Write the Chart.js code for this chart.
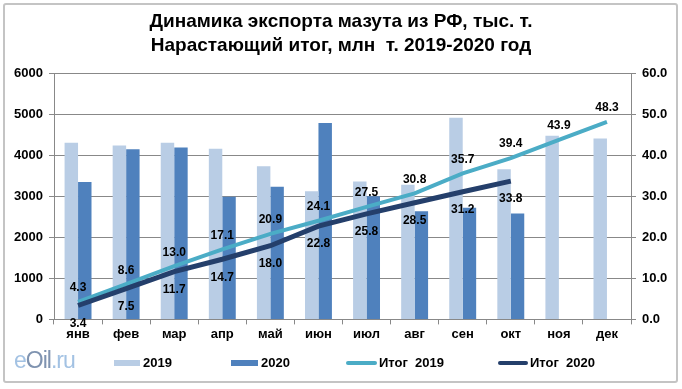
<!DOCTYPE html>
<html>
<head>
<meta charset="utf-8">
<script src="https://cdn.jsdelivr.net/npm/chart.js@4/dist/chart.umd.min.js"></script>
<style>
  body { margin: 0; background: #fff; }
  #wrap { position: relative; width: 682px; height: 389px; }
  #frame { position: absolute; left: 3px; top: 3px; width: 671px; height: 376px; border: 2px solid #c4c4c4; border-radius: 3px; pointer-events: none; }
  #logo { position: absolute; left: 14px; top: 347px; font: 23px "Liberation Sans", Arial, sans-serif; letter-spacing: -1px; }
  #logo .a { color: #a3c2e3; }
  #logo .b { color: #7f93b0; }
  .lg { position: absolute; top: 355px; font: bold 13px "Liberation Sans", Arial, sans-serif; color: #000; white-space: pre; }
  .sw { position: absolute; }
</style>
</head>
<body>
<div id="wrap">
  <canvas id="chart" width="682" height="389"></canvas>
  <div id="frame"></div>
  <div id="logo"><span class="a">e</span><span class="b">Oil</span><span class="a">.ru</span></div>
  <div id="legend"></div>
</div>
<script>
const months = ['янв', 'фев', 'мар', 'апр', 'май', 'июн', 'июл', 'авг', 'сен', 'окт', 'ноя', 'дек'];
const export2019 = [4320, 4250, 4320, 4170, 3740, 3130, 3370, 3290, 4930, 3670, 4490, 4420];
const export2020 = [3360, 4160, 4200, 3000, 3240, 4800, 3010, 2640, 2730, 2590];
const total2019 = [4.3, 8.6, 13.0, 17.1, 20.9, 24.1, 27.5, 30.8, 35.7, 39.4, 43.9, 48.3];
const total2020 = [3.4, 7.5, 11.7, 14.7, 18.0, 22.8, 25.8, 28.5, 31.2, 33.8];
const titleLines = ['Динамика экспорта мазута из РФ, тыс. т.', 'Нарастающий итог, млн  т. 2019-2020 год'];

const font = 'Liberation Sans';

// value labels over the cumulative lines
const lineLabels = {
  id: 'lineLabels',
  afterDatasetsDraw(chart) {
    const ctx = chart.ctx;
    ctx.save();
    ctx.font = 'bold 12px "' + font + '"';
    ctx.fillStyle = '#000';
    ctx.textAlign = 'center';
    ctx.textBaseline = 'middle';
    chart.data.datasets.forEach((ds, i) => {
      if (ds.type !== 'line') return;
      const meta = chart.getDatasetMeta(i);
      meta.data.forEach((pt, j) => {
        const v = ds.data[j];
        if (v == null) return;
        const dy = ds.labelPos === 'above' ? -14 : 18;
        ctx.fillText(v.toFixed(1), pt.x, pt.y + dy);
      });
    });
    ctx.restore();
  }
};

const chart = new Chart(document.getElementById('chart').getContext('2d'), {
  data: {
    labels: months,
    datasets: [
      { type: 'bar', label: '2019', data: export2019, backgroundColor: '#b9cde5', yAxisID: 'y', order: 3 },
      { type: 'bar', label: '2020', data: export2020, backgroundColor: '#4f81bd', yAxisID: 'y', order: 4 },
      { type: 'line', label: 'Итог  2019', data: total2019, borderColor: '#4bacc6', backgroundColor: '#4bacc6',
        borderWidth: 4, pointRadius: 0, yAxisID: 'y2', labelPos: 'above', order: 2 },
      { type: 'line', label: 'Итог  2020', data: total2020, borderColor: '#243f6b', backgroundColor: '#243f6b',
        borderWidth: 5, pointRadius: 0, yAxisID: 'y2', labelPos: 'below', order: 1 }
    ]
  },
  options: {
    responsive: false,
    animation: false,
    layout: { padding: { top: 4, bottom: 45, left: 0, right: 0 } },
    datasets: { bar: { categoryPercentage: 0.56, barPercentage: 1.0 } },
    plugins: {
      tooltip: { enabled: false },
      legend: { display: false },
      title: {
        display: true,
        text: titleLines,
        color: '#000',
        font: { family: font, size: 19, weight: 'bold', lineHeight: 1.26 },
        padding: { top: 6, bottom: 16 }
      }
    },
    scales: {
      x: {
        grid: { offset: true, drawOnChartArea: false, drawTicks: true, tickLength: 5, color: '#888' },
        border: { color: '#888' },
        ticks: { color: '#000', font: { family: font, size: 13, weight: 'bold' }, padding: 2 }
      },
      y: {
        position: 'left',
        min: 0, max: 6000,
        ticks: { stepSize: 1000, color: '#000', font: { family: font, size: 13, weight: 'bold' }, padding: 6,
          callback: v => String(v) },
        grid: { color: '#888', tickLength: 5 },
        border: { color: '#888' },
        afterFit(scale) { scale.width = 54; }
      },
      y2: {
        position: 'right',
        min: 0, max: 60,
        ticks: { stepSize: 10, color: '#000', font: { family: font, size: 13, weight: 'bold' }, padding: 6,
          callback: v => v.toFixed(1) },
        grid: { drawOnChartArea: false, color: '#888', tickLength: 5 },
        border: { color: '#888' },
        afterFit(scale) { scale.width = 51; }
      }
    }
  },
  plugins: [lineLabels]
});

// html legend, laid out like the original
const legendSlots = [
  { x: 114, w: 26, h: 6, text: 143 },
  { x: 231, w: 27, h: 6, text: 261 },
  { x: 346, w: 31, h: 4, text: 379 },
  { x: 498, w: 30, h: 4, text: 530 }
];
const legend = document.getElementById('legend');
chart.data.datasets.forEach((ds, i) => {
  const s = legendSlots[i];
  const sw = document.createElement('div');
  sw.className = 'sw';
  sw.style.left = s.x + 'px';
  sw.style.top = (363 - s.h / 2) + 'px';
  sw.style.width = s.w + 'px';
  sw.style.height = s.h + 'px';
  sw.style.background = ds.type === 'line' ? ds.borderColor : ds.backgroundColor;
  if (ds.type === 'line') sw.style.borderRadius = '2px';
  legend.appendChild(sw);
  const t = document.createElement('div');
  t.className = 'lg';
  t.style.left = s.text + 'px';
  t.textContent = ds.label;
  legend.appendChild(t);
});
</script>
</body>
</html>
